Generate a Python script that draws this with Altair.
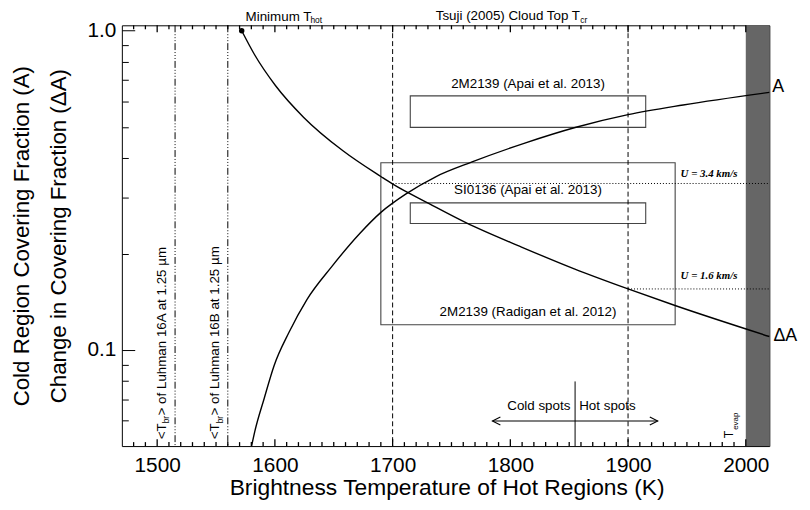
import altair as alt
import pandas as pd

# ---------------- data ----------------
# Cold region covering fraction A(T_hot)
A_T = [1580.2, 1582.9, 1590.9, 1599.3, 1611.9, 1627.2, 1648.3, 1672.1, 1690.3, 1711.4,
       1736.6, 1767.5, 1812.3, 1855.8, 1900.0, 1946.8, 2020]
A_V = [0.05, 0.0555, 0.0705, 0.0893, 0.1134, 0.1439, 0.1825, 0.2317, 0.2703, 0.3083,
       0.3488, 0.3882, 0.4447, 0.4985, 0.5459, 0.5855, 0.6413]
# Change in covering fraction dA(T_hot)
DA_T = [1571.8, 1582.4, 1600.6, 1624.5, 1658.1, 1690.3, 1700.2, 1731.0, 1761.8,
        1809.5, 1854.3, 1900.0, 1939.9, 2020]
DA_V = [1.0, 0.8456, 0.6727, 0.5353, 0.4199, 0.3488, 0.3306, 0.2875, 0.2511,
        0.2101, 0.1795, 0.1553, 0.1378, 0.1102]

# minimum T_hot point
MIN_T = [1571.8]
MIN_V = [1.0]

# observation boxes
BOX_T1 = [1715, 1715, 1690]
BOX_T2 = [1915, 1915, 1940]
BOX_V1 = [0.498, 0.249, 0.120]
BOX_V2 = [0.625, 0.289, 0.386]
BOX_LABELS = ["2M2139 (Apai et al. 2013)", "SI0136 (Apai et al. 2013)", "2M2139 (Radigan et al. 2012)"]
BOX_LABEL_T = [1815, 1815, 1815]
BOX_LABEL_V = [0.6633, 0.3083, 0.1277]

# vertical reference lines
TSUJI_T = [1700, 1900]
LUHMAN_T = [1515.2, 1560]
LUHMAN_LABEL_T = [1507.4, 1552.8]
LUHMAN_NAMES = ["> of Luhman 16A at 1.25 \u00b5m", "> of Luhman 16B at 1.25 \u00b5m"]
LUHMAN_LABEL_V = [0.05255, 0.05255]

# T_evap band
EVAP_T1 = [2000]
EVAP_T2 = [2020]
EVAP_V1 = [0.05]
EVAP_V2 = [1.04]

# wind speed levels
U_T1 = [1700, 1900]
U_T2 = [2020, 2020]
U_V = [0.3323, 0.1553]
U_LABELS = ["U = 3.4 km/s", "U = 1.6 km/s"]
U_LABEL_T = [1944.6, 1944.6]
U_LABEL_V = [0.347, 0.1668]

# cold / hot spot divider and arrow
SPOT_T = [1855]
SPOT_V1 = [0.05]
SPOT_V2 = [0.0797]
ARROW_T1 = [1784.8]
ARROW_T2 = [1925.2]
ARROW_V = [0.0599]

# axes
X_DOMAIN = [1470, 2020]
Y_DOMAIN = [0.05, 1.04]
X_MAJOR = [1500, 1600, 1700, 1800, 1900, 2000]
X_MINOR = [1480, 1490, 1510, 1520, 1530, 1540, 1550, 1560, 1570, 1580, 1590,
           1610, 1620, 1630, 1640, 1650, 1660, 1670, 1680, 1690,
           1710, 1720, 1730, 1740, 1750, 1760, 1770, 1780, 1790,
           1810, 1820, 1830, 1840, 1850, 1860, 1870, 1880, 1890,
           1910, 1920, 1930, 1940, 1950, 1960, 1970, 1980, 1990]
Y_MAJOR = [0.1, 1.0]
Y_MINOR = [0.06, 0.07, 0.08, 0.09, 0.2, 0.3, 0.4, 0.5, 0.6, 0.7, 0.8, 0.9]
X_TITLE = "Brightness Temperature of Hot Regions (K)"
Y_TITLE = ["Cold Region Covering Fraction (A)", "Change in Covering Fraction (\u0394A)"]

W, H = 654, 425
FONT = "Liberation Sans"
FS = 13.5  # annotation font size

xs = alt.Scale(domain=X_DOMAIN, nice=False, zero=False)
ys = alt.Scale(type="log", domain=Y_DOMAIN, nice=False)


def X(field, **kw):
    return alt.X(field, type="quantitative", scale=xs, axis=None, **kw)


def Y(field, **kw):
    return alt.Y(field, type="quantitative", scale=ys, axis=None, **kw)


def df(**cols):
    return pd.DataFrame(cols)


def text_layer(T, V, S, **kw):
    return alt.Chart(df(T=T, v=V, s=S)).mark_text(**kw).encode(
        x=X("T"), y=Y("v"), text="s:N")


layers = []

# grey T_evap band
layers.append(alt.Chart(df(T1=EVAP_T1, T2=EVAP_T2, v1=EVAP_V1, v2=EVAP_V2)).mark_rect(
    color="#666666").encode(x=X("T1"), x2="T2", y=Y("v1"), y2="v2"))

# inward x ticks on the bottom and top edges
for vals, size in ((X_MAJOR, 7), (X_MINOR, 4)):
    layers.append(alt.Chart(df(T=vals)).mark_rule(color="black", strokeWidth=1.3, opacity=1).encode(
        x=X("T"), y=alt.value(H), y2=alt.value(H - size)))
    layers.append(alt.Chart(df(T=vals)).mark_rule(color="black", strokeWidth=1.3, opacity=1).encode(
        x=X("T"), y=alt.value(0), y2=alt.value(size)))

# boxes
layers.append(alt.Chart(df(T1=BOX_T1, T2=BOX_T2, v1=BOX_V1, v2=BOX_V2)).mark_rect(
    fill=None, stroke="#444444", strokeWidth=1.1).encode(
    x=X("T1"), x2="T2", y=Y("v1"), y2="v2"))

# vertical dashed lines (Tsuji cloud top)
layers.append(alt.Chart(df(T=TSUJI_T)).mark_rule(
    color="black", strokeWidth=1, strokeDash=[5, 3]).encode(x=X("T")))

# dash-dot-dot-dot lines (Luhman 16 A/B)
layers.append(alt.Chart(df(T=LUHMAN_T)).mark_rule(
    color="black", strokeWidth=1, strokeDash=[7, 2, 1, 2, 1, 2, 1, 2]).encode(x=X("T")))

# dotted wind speed lines
layers.append(alt.Chart(df(T1=U_T1, T2=U_T2, v=U_V)).mark_rule(
    color="black", strokeWidth=1, strokeDash=[1, 2]).encode(x=X("T1"), x2="T2", y=Y("v")))

# curves
layers.append(alt.Chart(df(T=A_T, v=A_V)).mark_line(
    color="black", strokeWidth=1.4, interpolate="monotone").encode(x=X("T"), y=Y("v")))
layers.append(alt.Chart(df(T=DA_T, v=DA_V)).mark_line(
    color="black", strokeWidth=1.4, interpolate="monotone").encode(x=X("T"), y=Y("v")))

# minimum T_hot dot
layers.append(alt.Chart(df(T=MIN_T, v=MIN_V)).mark_point(
    filled=True, color="black", size=30, opacity=1).encode(x=X("T"), y=Y("v")))

# cold/hot spots divider and arrow
layers.append(alt.Chart(df(T=SPOT_T, v1=SPOT_V1, v2=SPOT_V2)).mark_rule(
    color="black", strokeWidth=1).encode(x=X("T"), y=Y("v1"), y2="v2"))
layers.append(alt.Chart(df(T1=ARROW_T1, T2=ARROW_T2, v=ARROW_V)).mark_rule(
    color="black", strokeWidth=1.1).encode(x=X("T1"), x2="T2", y=Y("v")))
layers.append(alt.Chart(df(T=ARROW_T1, v=ARROW_V)).mark_point(
    shape="M1.6,-0.8L0,0L1.6,0.8", size=100, filled=False, color="black",
    strokeWidth=1.1, opacity=1).encode(x=X("T"), y=Y("v")))
layers.append(alt.Chart(df(T=ARROW_T2, v=ARROW_V)).mark_point(
    shape="M-1.6,-0.8L0,0L-1.6,0.8", size=100, filled=False, color="black",
    strokeWidth=1.1, opacity=1).encode(x=X("T"), y=Y("v")))

# ---- annotations ----
layers.append(text_layer(BOX_LABEL_T, BOX_LABEL_V, BOX_LABELS, fontSize=FS, align="center",
                         baseline="alphabetic", color="black", font=FONT))
layers.append(text_layer(U_LABEL_T, U_LABEL_V, U_LABELS, fontSize=11, align="left",
                         baseline="alphabetic", color="black", font="Liberation Serif",
                         fontStyle="italic", fontWeight="bold"))
layers.append(text_layer([1575.1], [1.0755], ["Minimum T"], fontSize=FS, align="left",
                         baseline="alphabetic", color="black", font=FONT))
layers.append(text_layer([1575.1], [1.0755], ["hot"], fontSize=8.5, align="left", dx=65.5, dy=2.5,
                         baseline="alphabetic", color="black", font=FONT))
layers.append(text_layer([1736.6], [1.08], ["Tsuji (2005) Cloud Top T"], fontSize=FS, align="left",
                         baseline="alphabetic", color="black", font=FONT))
layers.append(text_layer([1736.6], [1.08], ["cr"], fontSize=8.5, align="left", dx=146, dy=2.5,
                         baseline="alphabetic", color="black", font=FONT))
layers.append(text_layer([1851], [0.0648], ["Cold spots"], fontSize=FS, align="right",
                         baseline="alphabetic", color="black", font=FONT))
layers.append(text_layer([1858.5], [0.0648], ["Hot spots"], fontSize=FS, align="left",
                         baseline="alphabetic", color="black", font=FONT))
layers.append(text_layer([2022.5], [0.668], ["A"], fontSize=18, align="left",
                         baseline="middle", color="black", font=FONT))
layers.append(text_layer([2023.5], [0.1102], ["\u0394A"], fontSize=18, align="left",
                         baseline="middle", color="black", font=FONT))
# rotated Luhman labels
layers.append(text_layer(LUHMAN_LABEL_T, LUHMAN_LABEL_V, ["<T", "<T"], fontSize=FS, angle=270,
                         align="left", baseline="alphabetic", color="black", font=FONT))
layers.append(text_layer(LUHMAN_LABEL_T, LUHMAN_LABEL_V, ["br", "br"], fontSize=8.5, angle=270,
                         dx=16, dy=3.5, align="left", baseline="alphabetic", color="black", font=FONT))
layers.append(text_layer(LUHMAN_LABEL_T, LUHMAN_LABEL_V, LUHMAN_NAMES, fontSize=FS, angle=270,
                         dx=24, align="left", baseline="alphabetic", color="black", font=FONT))
# rotated T_evap
layers.append(text_layer([1989.5], [0.0529], ["T"], fontSize=12.5, angle=270,
                         align="left", baseline="alphabetic", color="black", font=FONT))
layers.append(text_layer([1989.5], [0.0529], ["evap"], fontSize=8, angle=270, dx=8.5, dy=5,
                         align="left", baseline="alphabetic", color="black", font=FONT))

# ---- axes hosted on invisible layers ----
host = df(T=[1800], v=[0.5])


def xhost(axis):
    return alt.Chart(host).mark_point(opacity=0).encode(
        x=alt.X("T:Q", scale=xs, axis=axis), y=Y("v"))


def yhost(axis):
    return alt.Chart(host).mark_point(opacity=0).encode(
        x=X("T"), y=alt.Y("v:Q", scale=ys, axis=axis))


def tick_axis(orient, offset, values, size):
    return alt.Axis(orient=orient, offset=offset, values=values, labels=False, domain=False,
                    ticks=True, tickSize=size, tickWidth=1, tickColor="black", title=None)


layers.append(xhost(alt.Axis(orient="bottom", values=X_MAJOR, format="d", ticks=False, domain=False,
                             labelFontSize=21, labelPadding=9, labelOverlap=False, labelFlush=False,
                             title=X_TITLE, titleFontSize=23, titleFontWeight="normal",
                             titleX=328, titleY=48.5, titleBaseline="alphabetic", titleAlign="center")))

layers.append(yhost(alt.Axis(orient="left", values=Y_MAJOR, format=".1f", ticks=False, domain=False,
                             labelFontSize=21, labelPadding=6, labelOverlap=False, labelFlush=False,
                             title=Y_TITLE, titleFontSize=22.5, titleFontWeight="normal",
                             titleAngle=270, titleX=-94, titleY=212.5, titleAlign="center",
                             titleBaseline="alphabetic", titleLineHeight=37)))
# inward ticks along left edge (right-oriented axes moved left)
layers.append(yhost(tick_axis("right", -W, Y_MAJOR, 13)))
layers.append(yhost(tick_axis("right", -W, Y_MINOR, 6.5)))

chart = alt.layer(*layers).resolve_axis(x="independent", y="independent").properties(
    width=W, height=H,
    autosize=alt.AutoSizeParams(type="none"),
    padding={"left": 115, "top": 15, "right": 33, "bottom": 54},
).configure_view(stroke="black", strokeWidth=1).configure_axis(
    grid=False, labelFont=FONT, titleFont=FONT, labelColor="black", titleColor="black",
    tickColor="black", domainColor="black"
).configure_text(font=FONT)

chart.save("out.html", embed_options={"renderer": "svg", "actions": False})
